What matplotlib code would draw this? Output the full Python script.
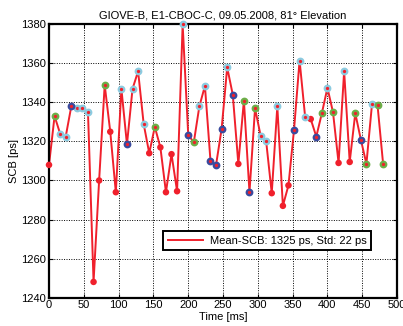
import matplotlib
matplotlib.use('Agg')
import matplotlib.pyplot as plt

plt.rcParams['font.family'] = ['Liberation Sans', 'DejaVu Sans']

# sampling instants [ms]
time_ms = [0, 8, 16, 24, 32, 40, 48, 56, 64, 72, 80, 88, 96, 104, 112, 120,
           128, 136, 144, 152, 160, 168, 176, 184, 192, 200, 208, 216, 224,
           232, 240, 248, 256, 264, 272, 280, 288, 296, 304, 312, 320, 328,
           336, 344, 352, 360, 368, 376, 384, 392, 400, 408, 416, 424, 432,
           440, 448, 456, 464, 472, 480]

# satellite clock bias [ps]
scb = [1308, 1333, 1324, 1322.5, 1338, 1337, 1337, 1335, 1248, 1300,
       1349, 1325, 1294, 1347, 1318.5, 1347, 1356, 1329, 1314, 1327.5,
       1317, 1294, 1313.5, 1294.5, 1380, 1323.5, 1319.5, 1338, 1348.5, 1310,
       1308, 1326.5, 1358, 1344, 1308.5, 1341, 1294, 1337, 1323, 1320,
       1293.5, 1338, 1287, 1297.5, 1326, 1361.5, 1332.5, 1331.5, 1322.5, 1334.5,
       1347.5, 1335, 1309, 1356, 1309.5, 1334.5, 1321, 1308.5, 1339, 1338.5,
       1308.5]

# marker class of each sample
flags = ['r', 'g', 'c', 'c', 'b', 'c', 'c', 'c', 'r', 'r',
         'g', 'r', 'r', 'c', 'b', 'c', 'c', 'c', 'r', 'g',
         'r', 'r', 'r', 'r', 'c', 'b', 'g', 'c', 'c', 'b',
         'b', 'b', 'c', 'b', 'r', 'g', 'b', 'g', 'c', 'c',
         'r', 'c', 'r', 'r', 'b', 'c', 'c', 'r', 'b', 'g',
         'c', 'g', 'r', 'c', 'r', 'g', 'b', 'g', 'c', 'g',
         'g']

legend_label = 'Mean-SCB: 1325 ps, Std: 22 ps'
xticks = list(range(0, 501, 50))
yticks = list(range(1240, 1381, 20))

red = '#f0202c'
ring = {'c': '#8ccbe0', 'g': '#6cae48', 'b': '#3a4a9e'}

fig = plt.figure(figsize=(4.03, 3.26), dpi=100)
ax = fig.add_axes([0.1216, 0.0874, 0.8636, 0.8375])

line, = ax.plot(time_ms, scb, color=red, lw=1.4, zorder=2, label=legend_label)

for k in ['r', 'c', 'g', 'b']:
    xs = [t for t, f in zip(time_ms, flags) if f == k]
    ys = [v for v, f in zip(scb, flags) if f == k]
    if k == 'r':
        ax.scatter(xs, ys, s=22, color=red, edgecolors='none', zorder=3,
                   clip_on=False)
    else:
        ax.scatter(xs, ys, s=16, facecolor=red, edgecolors=ring[k],
                   linewidths=1.6, zorder=3, clip_on=False)

ax.set_xlim(0, 500)
ax.set_ylim(1240, 1380)
ax.set_xticks(xticks)
ax.set_yticks(yticks)
ax.tick_params(direction='in', length=3, width=0.8, labelsize=8,
               top=True, right=True, pad=2)
ax.grid(True, color='black', linestyle=(0, (1, 1.5)), linewidth=0.7)
for sp in ax.spines.values():
    sp.set_linewidth(1.6)

ax.set_title('GIOVE-B, E1-CBOC-C, 09.05.2008, 81° Elevation', fontsize=8, pad=4)
ax.set_xlabel('Time [ms]', fontsize=8, labelpad=1)
ax.set_ylabel('SCB [ps]', fontsize=8, labelpad=2)

leg = ax.legend(handles=[line], loc='lower right',
                bbox_to_anchor=(0.925, 0.174), fontsize=8, fancybox=False,
                framealpha=1, edgecolor='black', handlelength=3.2,
                borderpad=0.4, handletextpad=0.6, borderaxespad=0)
leg.get_frame().set_linewidth(1.4)

fig.savefig('out.png', dpi=100)
